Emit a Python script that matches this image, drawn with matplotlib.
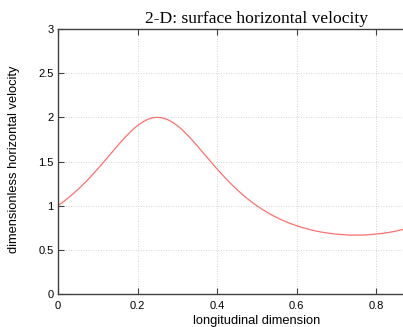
import numpy as np
import matplotlib
matplotlib.use("Agg")
import matplotlib.pyplot as plt
import matplotlib.ticker as ticker

# surface velocity, x step 0.0125
x_pos = np.arange(0, 81) * 0.0125
u_surf = [1.000, 1.041, 1.085, 1.132, 1.183, 1.237, 1.294, 1.354, 1.416, 1.481,
          1.547, 1.613, 1.679, 1.743, 1.803, 1.859, 1.907, 1.946, 1.976, 1.994,
          2.000, 1.994, 1.976, 1.946, 1.907, 1.859, 1.803, 1.743, 1.679, 1.613,
          1.547, 1.481, 1.416, 1.354, 1.294, 1.237, 1.183, 1.132, 1.085, 1.041,
          1.000, 0.962, 0.927, 0.895, 0.866, 0.839, 0.815, 0.793, 0.773, 0.755,
          0.739, 0.725, 0.712, 0.701, 0.692, 0.684, 0.678, 0.673, 0.669, 0.667,
          0.667, 0.667, 0.669, 0.673, 0.678, 0.684, 0.692, 0.701, 0.712, 0.725,
          0.739, 0.755, 0.773, 0.793, 0.815, 0.839, 0.866, 0.895, 0.927, 0.962,
          1.000]
x_ticks = [0, 0.2, 0.4, 0.6, 0.8]
y_ticks = [0, 0.5, 1, 1.5, 2, 2.5, 3]

axis_col = '#404040'
tick_font = {'family': 'Liberation Sans', 'size': 8}
label_font = {'family': 'Liberation Sans', 'size': 9.3}

fig = plt.figure(figsize=(4.03, 3.27), dpi=100)
ax = fig.add_axes([58/403, 33/327, 397.5/403, 265/327])

ax.plot(x_pos, u_surf, color='#ff7070', linewidth=0.9)

ax.set_xlim(0, 1)
ax.set_ylim(0, 3)
ax.set_xticks(x_ticks)
ax.set_yticks(y_ticks)
ax.xaxis.set_major_formatter(ticker.FormatStrFormatter('%g'))
ax.yaxis.set_major_formatter(ticker.FormatStrFormatter('%g'))
ax.grid(True, color='#c8c8c8', linestyle=(0, (1, 2)), linewidth=0.6)

for s in ax.spines.values():
    s.set_color(axis_col)
    s.set_linewidth(1.0)
ax.tick_params(direction='in', length=4, width=0.8, color=axis_col,
               top=True, right=True, labelsize=tick_font['size'])
ax.tick_params(axis='x', pad=5)
ax.tick_params(axis='y', pad=3)
for label in ax.get_xticklabels() + ax.get_yticklabels():
    label.set_fontname(tick_font['family'])

ax.set_title('2-D: surface horizontal velocity', family='Liberation Serif',
             fontsize=12.6, pad=4.5)
ax.set_xlabel('longitudinal dimension', **label_font)
ax.set_ylabel('dimensionless horizontal velocity', **label_font)
ax.xaxis.set_label_coords(0.5, (294 - 315) / 265)
ax.yaxis.set_label_coords((20 - 58) / 397.5, 0.51)

fig.savefig('out.png', dpi=100)
